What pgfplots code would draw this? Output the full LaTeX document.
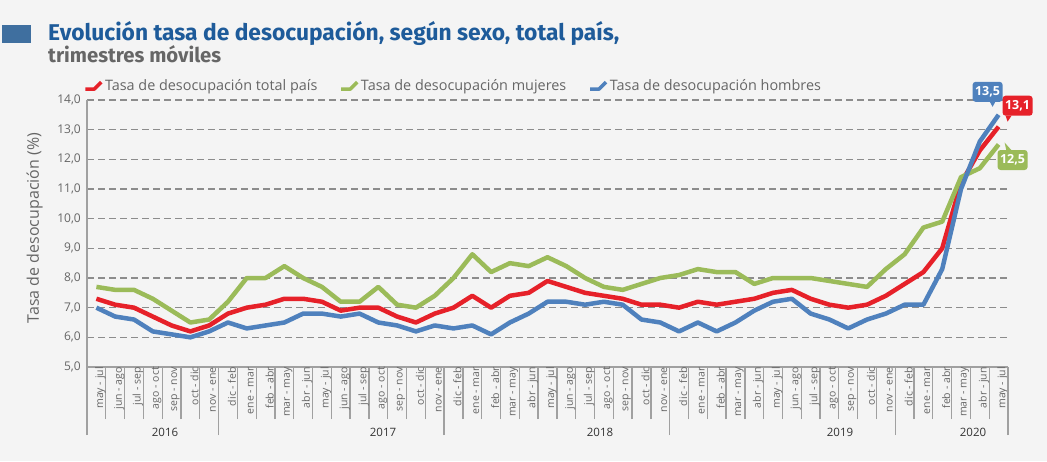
\documentclass[border=0pt]{standalone}
\usepackage{fontspec}
\setmainfont{Open Sans}
\newfontfamily\titlefont{Fira Sans}
\usepackage{pgfplots}
\pgfplotsset{compat=1.18}
\usepackage{pgfplotstable}

\definecolor{fondo}{HTML}{F4F4F4}
\definecolor{rojo}{HTML}{E62129}
\definecolor{verde}{HTML}{9BBB59}
\definecolor{azul}{HTML}{4F81BD}
\definecolor{titulo}{HTML}{1E5B9A}
\definecolor{cuadro}{HTML}{3F6F9F}
\definecolor{gristxt}{HTML}{666666}
\definecolor{grisgrid}{HTML}{8C8C8C}
\definecolor{grisejes}{HTML}{A0A0A0}

% i, total pais, mujeres, hombres (may-jul 2016 ... may-jul 2020)
\pgfplotstableread{
i total mujeres hombres
0 7.3 7.7 7.0
1 7.1 7.6 6.7
2 7.0 7.6 6.6
3 6.7 7.3 6.2
4 6.4 6.9 6.1
5 6.2 6.5 6.0
6 6.4 6.6 6.2
7 6.8 7.2 6.5
8 7.0 8.0 6.3
9 7.1 8.0 6.4
10 7.3 8.4 6.5
11 7.3 8.0 6.8
12 7.2 7.7 6.8
13 6.9 7.2 6.7
14 7.0 7.2 6.8
15 7.0 7.7 6.5
16 6.7 7.1 6.4
17 6.5 7.0 6.2
18 6.8 7.4 6.4
19 7.0 8.0 6.3
20 7.4 8.8 6.4
21 7.0 8.2 6.1
22 7.4 8.5 6.5
23 7.5 8.4 6.8
24 7.9 8.7 7.2
25 7.7 8.4 7.2
26 7.5 8.0 7.1
27 7.4 7.7 7.2
28 7.3 7.6 7.1
29 7.1 7.8 6.6
30 7.1 8.0 6.5
31 7.0 8.1 6.2
32 7.2 8.3 6.5
33 7.1 8.2 6.2
34 7.2 8.2 6.5
35 7.3 7.8 6.9
36 7.5 8.0 7.2
37 7.6 8.0 7.3
38 7.3 8.0 6.8
39 7.1 7.9 6.6
40 7.0 7.8 6.3
41 7.1 7.7 6.6
42 7.4 8.3 6.8
43 7.8 8.8 7.1
44 8.2 9.7 7.1
45 9.0 9.9 8.3
46 11.2 11.4 11.0
47 12.3 11.7 12.6
48 13.1 12.5 13.5
}\datos

\begin{document}
\begin{tikzpicture}
\fill[fondo] (0,0) rectangle (1047pt,461pt);

% titulo
\fill[cuadro] (2pt,418pt) rectangle (31pt,436pt);
\node[anchor=base west, inner sep=0pt, text=titulo, font=\titlefont\bfseries\fontsize{22.8}{22.8}\selectfont]
  at (48pt,420pt) {Evolución tasa de desocupación, según sexo, total país,};
\node[anchor=base west, inner sep=0pt, text=gristxt, font=\titlefont\bfseries\fontsize{20.3}{20.3}\selectfont]
  at (48pt,398pt) {trimestres móviles};

\begin{axis}[
  at={(87pt,94pt)}, anchor=south west,
  scale only axis, width=921pt, height=267pt,
  xmin=-0.5, xmax=48.5, ymin=5, ymax=14,
  clip=false,
  axis x line*=bottom, axis y line*=left,
  axis line style={draw=grisejes, line width=1.5pt},
  ytick={5,6,...,14},
  ymajorgrids,
  grid style={draw=grisgrid, line width=1.2pt, dash pattern=on 7pt off 4pt},
  major tick length=0pt,
  tick align=outside,
  minor xtick={-0.5,0.5,...,48.5},
  minor tick length=52pt,
  tick style={draw=grisejes, line width=1.3pt},
  extra x ticks={-0.5,6.5,18.5,30.5,42.5,48.5},
  extra x tick labels={},
  extra x tick style={grid=none, major tick length=68pt},
  xtick={0,1,...,48},
  xticklabels={may - jul, jun - ago, jul - sep, ago - oct, sep - nov, oct - dic, nov - ene,
    dic - feb, ene - mar, feb - abr, mar - may, abr - jun, may - jul, jun - ago, jul - sep, ago - oct, sep - nov, oct - dic, nov - ene,
    dic - feb, ene - mar, feb - abr, mar - may, abr - jun, may - jul, jun - ago, jul - sep, ago - oct, sep - nov, oct - dic, nov - ene,
    dic - feb, ene - mar, feb - abr, mar - may, abr - jun, may - jul, jun - ago, jul - sep, ago - oct, sep - nov, oct - dic, nov - ene,
    dic - feb, ene - mar, feb - abr, mar - may, abr - jun, may - jul},
  xticklabel style={rotate=90, anchor=east, inner sep=0pt, yshift=-4pt,
    font=\fontsize{10.5}{10.5}\selectfont, text=gristxt},
  yticklabel style={font=\fontsize{12}{12}\selectfont, text=gristxt, inner sep=0pt, xshift=-6pt},
  /pgf/number format/.cd, fixed, fixed zerofill, precision=1, use comma, assume math mode=true,
  /pgfplots/.cd,
  ylabel={Tasa de desocupación (\%)},
  ylabel style={at={(axis description cs:-0.0478,0.52)}, anchor=south, inner sep=0pt,
    font=\fontsize{16}{16}\selectfont, text=gristxt},
  legend columns=3,
  legend style={at={(axis description cs:-0.004,1.052)}, anchor=west, draw=none, fill=none,
    inner sep=0pt, font=\fontsize{14.4}{14.4}\selectfont, text=gristxt,
    /tikz/every even column/.append style={column sep=20pt}},
  legend image code/.code={\draw[#1, line width=3.5pt] (0pt,-3pt) -- (9pt,-3pt) -- (16pt,4pt);},
]
\addplot[rojo, line width=4.5pt, line join=round] table[x=i, y=total] {\datos};
\addlegendentry{Tasa de desocupación total país}
\addplot[verde, line width=4.5pt, line join=round] table[x=i, y=mujeres] {\datos};
\addlegendentry{Tasa de desocupación mujeres}
\addplot[azul, line width=4.5pt, line join=round] table[x=i, y=hombres] {\datos};
\addlegendentry{Tasa de desocupación hombres}

% etiquetas del ultimo valor
\fill[azul] ([xshift=-9pt,yshift=13.5pt]axis cs:48,13.5) -- ([xshift=-3pt,yshift=13.5pt]axis cs:48,13.5) -- ([xshift=-6pt,yshift=8pt]axis cs:48,13.5) -- cycle;
\node[fill=azul, text=white, rounded corners=3pt, inner sep=0pt, minimum width=30pt, minimum height=20pt,
  font=\bfseries\fontsize{12.5}{12.5}\selectfont] at (axis cs:48,13.5) [xshift=-11pt, yshift=23pt] {13,5};
\fill[rojo] ([xshift=7pt,yshift=11pt]axis cs:48,13.1) -- ([xshift=13pt,yshift=11pt]axis cs:48,13.1) -- ([xshift=9pt,yshift=5pt]axis cs:48,13.1) -- cycle;
\node[fill=rojo, text=white, rounded corners=3pt, inner sep=0pt, minimum width=30pt, minimum height=20pt,
  font=\bfseries\fontsize{12.5}{12.5}\selectfont] at (axis cs:48,13.1) [xshift=19pt, yshift=21pt] {13,1};
\fill[verde] ([xshift=6pt,yshift=2pt]axis cs:48,12.5) -- ([xshift=8pt,yshift=-7pt]axis cs:48,12.5) -- ([xshift=14pt,yshift=-7pt]axis cs:48,12.5) -- cycle;
\node[fill=verde, text=white, rounded corners=3pt, inner sep=0pt, minimum width=30pt, minimum height=20pt,
  font=\bfseries\fontsize{12.5}{12.5}\selectfont] at (axis cs:48,12.5) [xshift=14pt, yshift=-15.5pt] {12,5};
\end{axis}

% anos
\begin{scope}[every node/.style={font=\fontsize{11.5}{11.5}\selectfont, text=black!80}]
\node at (165pt,29pt) {2016};
\node at (383pt,29pt) {2017};
\node at (600pt,29pt) {2018};
\node at (840pt,29pt) {2019};
\node at (973pt,29pt) {2020};
\end{scope}

\pgfresetboundingbox
\useasboundingbox (0,0) rectangle (1047pt,461pt);
\end{tikzpicture}
\end{document}
